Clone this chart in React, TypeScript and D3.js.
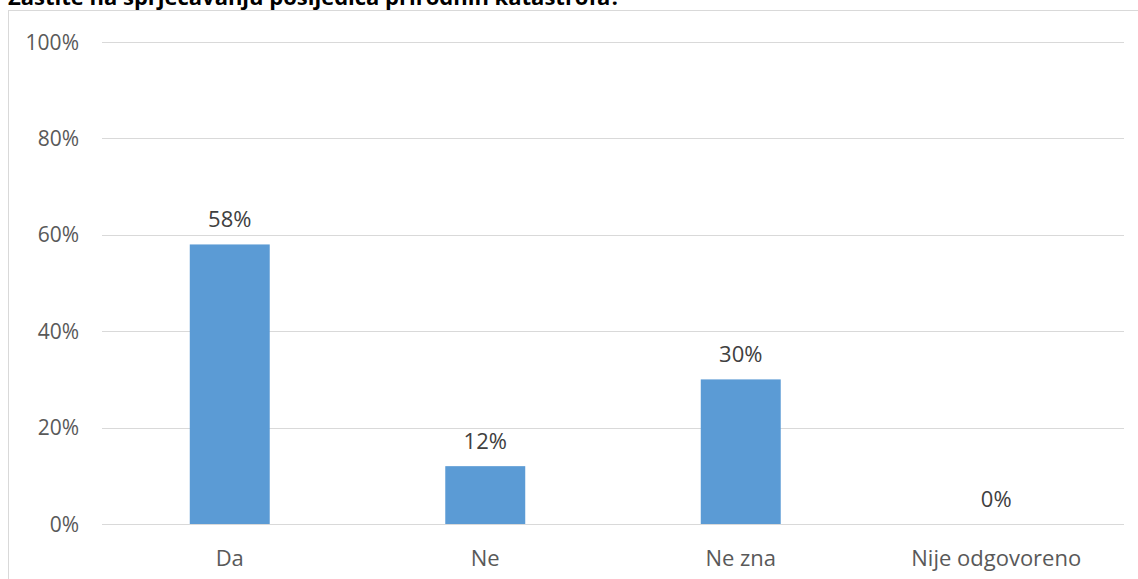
import React from "react";
import * as d3 from "d3";

const categories = ["Da", "Ne", "Ne zna", "Nije odgovoreno"];
const values = [0.58, 0.12, 0.3, 0.0];
const yTicks = [0, 0.2, 0.4, 0.6, 0.8, 1.0];
const title = "Zaštite na sprječavanju posljedica prirodnih katastrofa?";

const W = 1138;
const H = 579;
const left = 102;
const right = 1124;
const top = 42;
const bottom = 524;

export default function App() {
  const x = d3.scaleBand<string>().domain(categories).range([left, right]).paddingInner(0.687).paddingOuter(0.3435);
  const y = d3.scaleLinear().domain([0, 1]).range([bottom, top]);
  const fmt = d3.format(".0%");
  const font = "'Open Sans', 'Liberation Sans', sans-serif";
  return (
    <svg width={W} height={H} style={{ position: "absolute", left: 0, top: 0, background: "#fff" }} fontFamily={font}>
      <rect x={8.5} y={10.5} width={W + 10} height={H + 10} fill="#fff" stroke="#d9d9d9" strokeWidth={1} />
      <text x={8} y={5} fontSize={22} fontWeight="bold" fill="#000">{title}</text>
      {yTicks.map((t) => (
        <g key={t}>
          <line x1={left} x2={right} y1={Math.round(y(t)) + 0.5} y2={Math.round(y(t)) + 0.5} stroke="#d9d9d9" strokeWidth={1} />
          <text x={79} y={y(t)} dy="0.36em" textAnchor="end" fontSize={21} fill="#595959">{fmt(t)}</text>
        </g>
      ))}
      {categories.map((c, i) => (
        <g key={c}>
          <rect x={x(c)} y={y(values[i])} width={x.bandwidth()} height={bottom - y(values[i])} fill="#5B9BD5" />
          <text x={(x(c) as number) + x.bandwidth() / 2} y={y(values[i]) - 17} textAnchor="middle" fontSize={22} fill="#404040">{fmt(values[i])}</text>
          <text x={(x(c) as number) + x.bandwidth() / 2} y={566} textAnchor="middle" fontSize={22} fill="#595959">{c}</text>
        </g>
      ))}
    </svg>
  );
}
